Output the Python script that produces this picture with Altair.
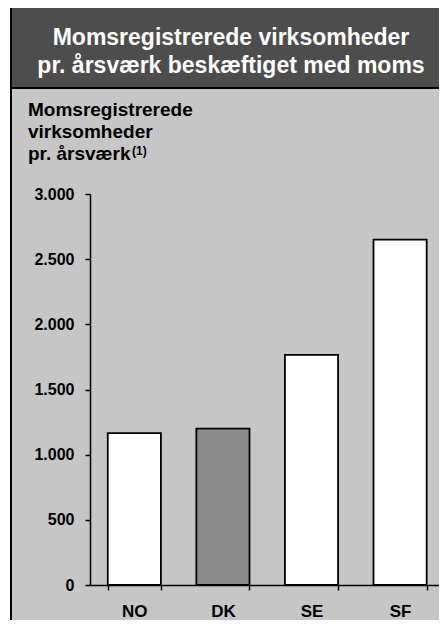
import altair as alt
import pandas as pd

countries = ["NO", "DK", "SE", "SF"]
values = [1165, 1200, 1765, 2650]
y_ticks = [0, 500, 1000, 1500, 2000, 2500, 3000]
title_lines = ["Momsregistrerede virksomheder", "pr. årsværk beskæftiget med moms"]
ytitle_lines = ["Momsregistrerede", "virksomheder", "pr. årsværk"]
footnote = "(1)"

df = pd.DataFrame({"country": countries, "value": values})
one = pd.DataFrame({"a": [0]})

W, H = 349, 391
FONT = "Liberation Sans"

frame = alt.Chart(one).mark_rect(fill="#c6c6c6", stroke="black", strokeWidth=2).encode(
    x=alt.value(-79), x2=alt.value(W + 30), y=alt.value(-186), y2=alt.value(H + 80)
)
header = alt.Chart(one).mark_rect(fill="#4d4d4d", stroke="black", strokeWidth=2).encode(
    x=alt.value(-79), x2=alt.value(W + 30), y=alt.value(-190), y2=alt.value(-106)
)

bars = alt.Chart(df).mark_bar(stroke="black", strokeWidth=1.8).encode(
    x=alt.X(
        "country:N",
        sort=countries,
        scale=alt.Scale(paddingInner=0.4, paddingOuter=0.17, align=0.59),
        axis=alt.Axis(
            title=None, labelAngle=0, labelFont=FONT, labelFontSize=17,
            labelFontWeight="bold", labelColor="black", tickBand="extent",
            tickSize=5, tickColor="black", tickWidth=1.5, domainColor="black",
            domainWidth=1.5, labelPadding=13, zindex=1,
        ),
    ),
    y=alt.Y(
        "value:Q",
        scale=alt.Scale(domain=[0, 3000], nice=False),
        axis=alt.Axis(
            values=y_ticks, title=None, grid=False,
            labelExpr="replace(format(datum.value, ','), ',', '.')",
            labelFont=FONT, labelFontSize=16, labelFontWeight="bold",
            labelColor="black", tickSize=5, tickColor="black", tickWidth=1.5,
            domainColor="black", domainWidth=1.5, labelPadding=11, zindex=1,
        ),
    ),
    fill=alt.condition(alt.datum.country == "DK", alt.value("#8c8c8c"), alt.value("white")),
)

layers = [frame, header, bars]

title_y = [-149, -121]
for line, yy in zip(title_lines, title_y):
    layers.append(
        alt.Chart(one).mark_text(
            font=FONT, fontSize=23, fontWeight="bold", color="white",
            align="center", baseline="alphabetic",
        ).encode(x=alt.value(141), y=alt.value(yy), text=alt.value(line))
    )

ytitle_y = [-78, -56, -34]
for line, yy in zip(ytitle_lines, ytitle_y):
    layers.append(
        alt.Chart(one).mark_text(
            font=FONT, fontSize=19, fontWeight="bold", color="black",
            align="left", baseline="alphabetic",
        ).encode(x=alt.value(-62), y=alt.value(yy), text=alt.value(line))
    )

layers.append(
    alt.Chart(one).mark_text(
        font=FONT, fontSize=12, fontWeight="bold", color="black",
        align="left", baseline="alphabetic",
    ).encode(x=alt.value(42), y=alt.value(-39), text=alt.value(footnote))
)

chart = alt.layer(*layers).properties(
    width=W,
    height=H,
    padding={"left": 82, "top": 186, "right": 0, "bottom": 35},
    autosize=alt.AutoSizeParams(type="none"),
).configure_view(stroke=None).configure(background="white")

chart.save("out.html", embed_options={"renderer": "svg", "actions": False})
